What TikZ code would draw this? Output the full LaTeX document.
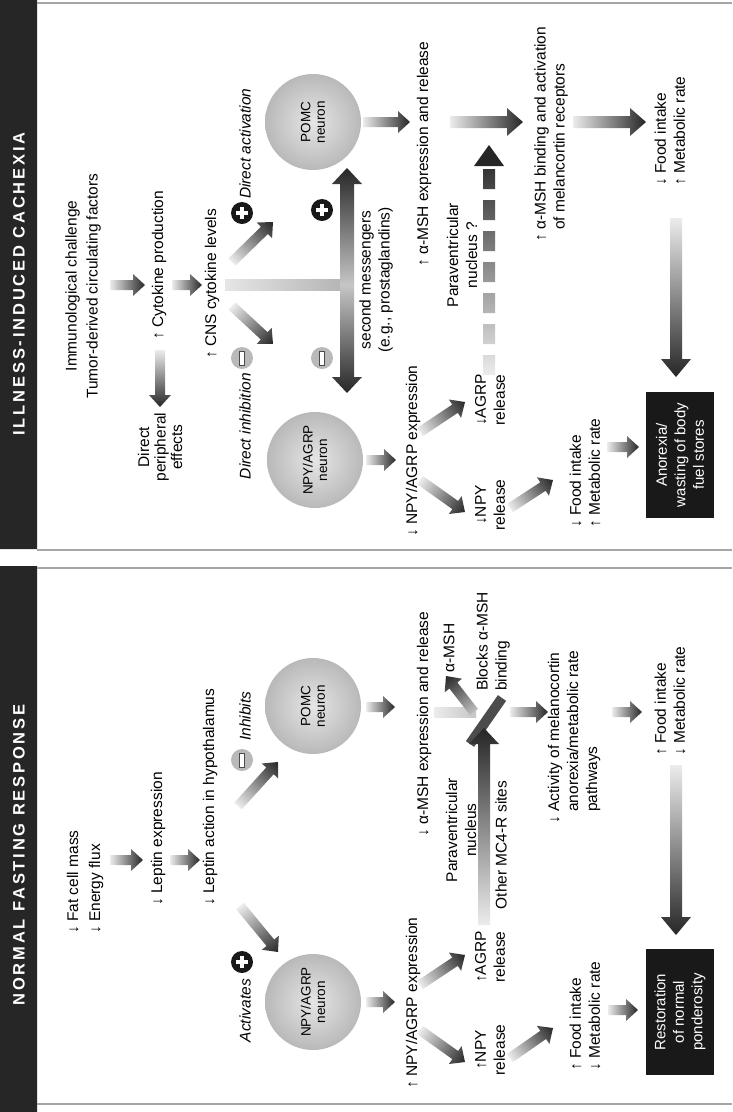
\documentclass[tikz,border=0pt]{standalone}
\usepackage{fontspec}
\setmainfont{Liberation Sans}
\usetikzlibrary{calc}

\tikzset{fat/.style={left color=gray!15,right color=black!85},
  arrow body/.store in=\abody,arrow head/.store in=\ahead,arrow tip/.store in=\atip,
  arrow body=5,arrow head=11,arrow tip=12}

% shaded block arrow from #2 to #3
\newcommand\fatarrow[3][]{%
  \path let \p1=(#2), \p2=(#3) in \pgfextra{%
    \pgfmathsetmacro\faang{atan2((\y2)-(\y1),(\x2)-(\x1))}%
    \pgfmathsetmacro\falen{veclen((\x2)-(\x1),(\y2)-(\y1))}%
    \global\let\faang\faang\global\let\falen\falen};
  \begin{scope}[transform canvas={shift={(#2)},rotate=\faang}]
    \shade[fat,#1] (0,-\abody) -- ({\falen-\atip},-\abody) -- ({\falen-\atip},-\ahead)
      -- (\falen,0) -- ({\falen-\atip},\ahead) -- ({\falen-\atip},\abody) -- (0,\abody) -- cycle;
  \end{scope}}

\begin{document}
\begin{tikzpicture}[x=1pt,y=1pt,
  lbl/.style={rotate=90,inner sep=1pt,align=center,font=\fontsize{15.5}{19}\selectfont},
  lbll/.style={lbl,align=left,anchor=west},
  lblr/.style={lbl,anchor=east},
  slant/.style={font=\fontsize{15.5}{19}\selectfont\itshape},
  heading/.style={rotate=90,text=white,font=\fontsize{16.5}{17}\selectfont\bfseries\addfontfeature{LetterSpace=17}},
  cell/.style={circle,minimum size=96pt,inner sep=0pt,inner color=gray!20,outer color=gray!55,
    rotate=90,align=center,font=\fontsize{13.5}{14.5}\selectfont},
  endbox/.style={fill=black!90,text=white,rotate=90,align=center,minimum width=126pt,
    minimum height=68pt,inner sep=2pt,font=\fontsize{15}{18.5}\selectfont},
  posmark/.style={circle,fill=black!90,minimum size=22pt,inner sep=0pt,
    path picture={\draw[white,line width=3.4pt]
      ([shift={(-6,0)}]path picture bounding box.center) -- ([shift={(6,0)}]path picture bounding box.center)
      ([shift={(0,-6)}]path picture bounding box.center) -- ([shift={(0,6)}]path picture bounding box.center);}},
  negmark/.style={circle,fill=gray!55,minimum size=22pt,inner sep=0pt,
    path picture={\filldraw[fill=white,draw=black!70,line width=.6pt]
      ([shift={(-2.5,-7)}]path picture bounding box.center) rectangle ([shift={(2.5,7)}]path picture bounding box.center);}},
  rule/.style={gray!70,line width=1.4pt},
  blocker/.style={black!70,line width=10pt}]
\path[use as bounding box,fill=white] (0,0) rectangle (732,-1112);

% panels
\fill[black!85] (0,0) rectangle (37,-549) (0,-566) rectangle (37,-1112);
\draw[rule] (37,-3) -- (732,-3) (37,-550) -- (732,-550) (37,-568) -- (732,-568) (37,-1104) -- (732,-1104);
\node[heading] (headB) at (19,-284) {ILLNESS-INDUCED CACHEXIA};
\node[heading] (headA) at (19,-855) {NORMAL FASTING RESPONSE};

% illness-induced cachexia
\node[lbl,font=\fontsize{15.5}{21}\selectfont] (immu) at (83,-286) {Immunological challenge\\Tumor-derived circulating factors};
\node[lbll] (cytprod) at (159,-341) {↑ Cytokine production};
\node[lbl] (cnscyt) at (212,-284) {↑ CNS cytokine levels};
\node[lbl,font=\fontsize{15.5}{16.5}\selectfont] (periph) at (160,-447) {Direct\\peripheral\\effects};
\node[posmark] (posB1) at (242,-213) {};
\node[posmark] (posB2) at (322,-210) {};
\node[negmark] (negB1) at (242,-358) {};
\node[negmark] (negB2) at (322,-358) {};
\node[lbll,slant] (dact) at (245,-200) {Direct activation};
\node[lblr,slant] (dinh) at (245,-372) {Direct inhibition};
\node[lbl] (second) at (376,-280) {second messengers\\(e.g., prostaglandins)};
\node[cell] (pomcB) at (313,-122) {POMC\\neuron};
\node[cell] (npyB) at (315,-460) {NPY/AGRP\\neuron};
\node[lbll] (amshB) at (424,-268) {↑ α-MSH expression and release};
\node[lbl] (pvnB) at (462,-255) {Paraventricular\\nucleus ?};
\node[lbll] (bindB) at (551,-243) {↑ α-MSH binding and activation\\\phantom{↑ }of melancortin receptors};
\node[lbll] (foodB1) at (670,-187) {↓ Food intake\\↑ Metabolic rate};
\node[lbll] (npyexpB) at (413,-538) {↓ NPY/AGRP expression};
\node[lbl] (agrpB) at (490,-400) {↓AGRP\\release};
\node[lbl] (npyrelB) at (490,-505) {↓NPY\\release};
\node[lbll] (foodB2) at (585,-529) {↓ Food intake\\↑ Metabolic rate};
\node[endbox] (anorexia) at (680,-455) {Anorexia/\\wasting of body\\fuel stores};

\coordinate (c1t) at (110,-285); \coordinate (c1h) at (145,-285);
\coordinate (c2t) at (172,-285); \coordinate (c2h) at (202,-285);
\coordinate (c3t) at (160,-350); \coordinate (c3h) at (160,-407);
\coordinate (ctee) at (225,-285); \coordinate (cmid) at (347,-285);
\coordinate (cup) at (347,-168); \coordinate (cdown) at (347,-393);
\coordinate (c4t) at (232,-262); \coordinate (c4h) at (273,-222);
\coordinate (c5t) at (232,-306); \coordinate (c5h) at (273,-344);
\coordinate (c6t) at (363,-122); \coordinate (c6h) at (410,-122);
\coordinate (c7t) at (450,-122); \coordinate (c7h) at (523,-122);
\coordinate (c8t) at (573,-122); \coordinate (c8h) at (646,-122);
\coordinate (c9t) at (676,-218); \coordinate (c9h) at (676,-377);
\coordinate (c10t) at (366,-460); \coordinate (c10h) at (396,-460);
\coordinate (c11t) at (420,-432); \coordinate (c11h) at (465,-402);
\coordinate (c12t) at (420,-480); \coordinate (c12h) at (465,-512);
\coordinate (c13t) at (510,-508); \coordinate (c13h) at (553,-480);
\coordinate (c14t) at (607,-447); \coordinate (c14h) at (639,-447);
\coordinate (cdash) at (489,-375);

\fatarrow{c1t}{c1h}
\fatarrow{c2t}{c2h}
\fatarrow{c3t}{c3h}
\shade[left color=gray!20,right color=gray!60] ($(ctee)+(0,-5.5)$) rectangle ($(cmid)+(0,5.5)$);
\fatarrow[arrow body=7,arrow head=15,arrow tip=16,left color=gray!45]{cmid}{cup}
\fatarrow[arrow body=7,arrow head=15,arrow tip=16,left color=gray!45]{cmid}{cdown}
\fatarrow{c4t}{c4h}
\fatarrow{c5t}{c5h}
\fatarrow{c6t}{c6h}
\fatarrow[arrow body=6,arrow head=14,arrow tip=16]{c7t}{c7h}
\fatarrow[arrow body=6,arrow head=14,arrow tip=16]{c8t}{c8h}
\fatarrow[arrow body=6,arrow head=15,arrow tip=18]{c9t}{c9h}
\fatarrow{c10t}{c10h}
\fatarrow{c11t}{c11h}
\fatarrow{c12t}{c12h}
\fatarrow{c13t}{c13h}
\fatarrow{c14t}{c14h}
\begin{scope}[shift={(cdash)}]
  \begin{scope}
    \clip (-6,0) rectangle (6,20) (-6,31) rectangle (6,51) (-6,62) rectangle (6,82) (-6,93) rectangle (6,113)
      (-6,124) rectangle (6,144) (-6,155) rectangle (6,175) (-6,186) rectangle (6,206);
    \shade[bottom color=gray!15,top color=black!80] (-6,0) rectangle (6,209);
  \end{scope}
  \fill[black!85] (-15,209) -- (15,209) -- (0,230) -- cycle;
\end{scope}

% normal fasting response
\node[lbll,font=\fontsize{15.5}{22}\selectfont] (fat) at (85,-935) {↓ Fat cell mass\\↓ Energy flux};
\node[lbll] (lepexp) at (158,-907) {↓ Leptin expression};
\node[lbll] (lepact) at (210,-907) {↓ Leptin action in hypothalamus};
\node[posmark] (posA) at (242,-962) {};
\node[negmark] (negA) at (242,-760) {};
\node[lblr,slant] (actv) at (245,-978) {Activates};
\node[lbll,slant] (inhb) at (245,-742) {Inhibits};
\node[cell] (pomcA) at (313,-706) {POMC\\neuron};
\node[cell] (npyA) at (313,-1002) {NPY/AGRP\\neuron};
\node[lbll] (amshA) at (424,-838) {↓ α-MSH expression and release};
\node[lbl] (amshlbl) at (449,-648) {α-MSH};
\node[lbll] (blocks) at (493,-692) {Blocks α-MSH\\binding};
\node[lbl] (pvnA) at (461,-830) {Paraventricular\\nucleus};
\node[lbl] (mc4r) at (501,-845) {Other MC4-R sites};
\node[lbll] (activity) at (574,-825) {↓ Activity of melanocortin\\\phantom{↓ }anorexia/metabolic rate\\\phantom{↓ }pathways};
\node[lbll] (foodA1) at (670,-757) {↑ Food intake\\↓ Metabolic rate};
\node[lbll] (npyexpA) at (413,-1090) {↑ NPY/AGRP expression};
\node[lbl] (agrpA) at (490,-957) {↑AGRP\\release};
\node[lbl] (npyrelA) at (490,-1050) {↑NPY\\release};
\node[lbll] (foodA2) at (585,-1072) {↑ Food intake\\↓ Metabolic rate};
\node[endbox] (restore) at (680,-1012) {Restoration\\of normal\\ponderosity};

\coordinate (f1t) at (110,-860); \coordinate (f1h) at (143,-860);
\coordinate (f2t) at (170,-860); \coordinate (f2h) at (200,-860);
\coordinate (f3t) at (240,-906); \coordinate (f3h) at (278,-952);
\coordinate (f4t) at (238,-806); \coordinate (f4h) at (278,-762);
\coordinate (f5t) at (366,-707); \coordinate (f5h) at (395,-707);
\coordinate (fv1) at (434,-712); \coordinate (fv2) at (476,-712);
\coordinate (f6t) at (474,-712); \coordinate (f6h) at (446,-676);
\coordinate (fblk1) at (470,-744); \coordinate (fblk2) at (502,-698);
\coordinate (f7t) at (484,-925); \coordinate (f7h) at (484,-728);
\coordinate (f8t) at (510,-712); \coordinate (f8h) at (548,-712);
\coordinate (f9t) at (612,-712); \coordinate (f9h) at (642,-712);
\coordinate (f10t) at (676,-765); \coordinate (f10h) at (676,-935);
\coordinate (f11t) at (366,-1002); \coordinate (f11h) at (395,-1002);
\coordinate (f12t) at (420,-985); \coordinate (f12h) at (465,-955);
\coordinate (f13t) at (420,-1030); \coordinate (f13h) at (465,-1062);
\coordinate (f14t) at (510,-1058); \coordinate (f14h) at (553,-1028);
\coordinate (f15t) at (608,-1010); \coordinate (f15h) at (638,-1010);

\fatarrow{f1t}{f1h}
\fatarrow{f2t}{f2h}
\fatarrow{f3t}{f3h}
\fatarrow{f4t}{f4h}
\fatarrow{f5t}{f5h}
\shade[left color=gray!15,right color=gray!45] ($(fv1)+(0,-5)$) rectangle ($(fv2)+(0,5)$);
\fatarrow[left color=gray!50]{f6t}{f6h}
\draw[blocker] (fblk1) -- (fblk2);
\fatarrow[arrow body=6,arrow head=15,arrow tip=16]{f7t}{f7h}
\fatarrow{f8t}{f8h}
\fatarrow{f9t}{f9h}
\fatarrow[arrow body=6,arrow head=15,arrow tip=18]{f10t}{f10h}
\fatarrow{f11t}{f11h}
\fatarrow{f12t}{f12h}
\fatarrow{f13t}{f13h}
\fatarrow{f14t}{f14h}
\fatarrow{f15t}{f15h}
\end{tikzpicture}
\end{document}
